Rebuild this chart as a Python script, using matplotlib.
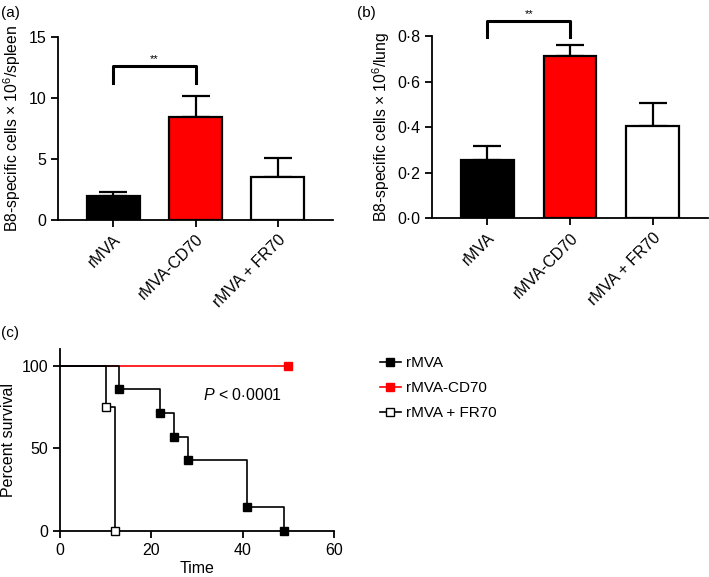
import numpy as np
import matplotlib
matplotlib.use("Agg")
import matplotlib.pyplot as plt
from matplotlib.ticker import FuncFormatter

plt.rcParams['font.family'] = ['Liberation Sans', 'DejaVu Sans']
plt.rcParams['mathtext.fontset'] = 'custom'
plt.rcParams['mathtext.rm'] = 'Liberation Sans'
plt.rcParams['mathtext.it'] = 'Liberation Sans:italic'
plt.rcParams['font.size'] = 11

groups = ['rMVA', 'rMVA-CD70', 'rMVA + FR70']
bar_colors = ['black', '#ff0000', 'white']

# (a) spleen
spleen_mean = [1.95, 8.45, 3.55]
spleen_err = [0.35, 1.7, 1.55]
# (b) lung
lung_mean = [0.256, 0.713, 0.405]
lung_err = [0.062, 0.046, 0.100]

# (c) survival curves (Kaplan-Meier steps)
rmva_t = [0, 13, 22, 25, 28, 41, 49]
rmva_s = [100, 85.7, 71.4, 57.1, 42.9, 14.3, 0]
cd70_t = [0, 50]
cd70_s = [100, 100]
fr70_t = [0, 10, 12]
fr70_s = [100, 75, 0]

fig = plt.figure(figsize=(7.09, 5.77), dpi=100)


def style_axes(ax):
    for s in ['top', 'right']:
        ax.spines[s].set_visible(False)
    for s in ['left', 'bottom']:
        ax.spines[s].set_linewidth(1.3)
    ax.tick_params(width=1.3, length=5, labelsize=11.5)


def bar_panel(ax, means, errs, ylim, yticks, ylabel, bracket, star_y):
    x = np.arange(len(groups))
    ax.bar(x, means, width=0.64, color=bar_colors, edgecolor='black', linewidth=1.6, zorder=2)
    ax.errorbar(x, means, yerr=[np.zeros(len(errs)), errs], fmt='none', ecolor='black',
                elinewidth=1.6, capsize=10, capthick=1.6, zorder=1)
    ax.set_xlim(-0.67, 2.67)
    ax.set_ylim(*ylim)
    ax.set_yticks(yticks)
    ax.set_xticks(x)
    ax.set_xticklabels(groups, rotation=45, ha='right', rotation_mode='anchor')
    ax.set_ylabel(ylabel, fontsize=11.3, labelpad=4)
    style_axes(ax)
    top, bottom = bracket
    ax.plot([0, 0, 1, 1], [bottom, top, top, bottom], color='black', lw=2.2, clip_on=False)
    ax.text(0.5, star_y, '**', ha='center', va='center', fontsize=8, clip_on=False)


ax1 = fig.add_axes([0.0818, 0.6187, 0.3879, 0.3172])
bar_panel(ax1, spleen_mean, spleen_err, (0, 15), [0, 5, 10, 15],
          r'B8-specific cells $\times$ 10$^{6}$/spleen', (12.6, 11.2), 13.2)

ax2 = fig.add_axes([0.6093, 0.6217, 0.3893, 0.3159])
bar_panel(ax2, lung_mean, lung_err, (0, 0.8), [0, 0.2, 0.4, 0.6, 0.8],
          r'B8-specific cells $\times$ 10$^{6}$/lung', (0.867, 0.794), 0.895)
ax2.yaxis.set_major_formatter(FuncFormatter(lambda v, p: ('%.1f' % v).replace('.', '\u00b7')))

ax3 = fig.add_axes([0.0846, 0.0797, 0.3865, 0.3155])
ax3.step(cd70_t, cd70_s, where='post', color='#ff0000', lw=1.2, zorder=2)
ax3.plot(cd70_t[1:], cd70_s[1:], 's', color='#ff0000', ms=6, zorder=3, clip_on=False)
ax3.step(rmva_t, rmva_s, where='post', color='black', lw=1.2, zorder=3)
ax3.plot(rmva_t[1:], rmva_s[1:], 's', color='black', ms=6, zorder=4, clip_on=False)
ax3.step(fr70_t, fr70_s, where='post', color='black', lw=1.2, zorder=3)
ax3.plot(fr70_t[1:], fr70_s[1:], 's', mfc='white', mec='black', mew=1.0, ms=6, zorder=4,
         clip_on=False)
ax3.set_xlim(0, 60)
ax3.set_ylim(0, 110)
ax3.set_xticks([0, 20, 40, 60])
ax3.set_yticks([0, 50, 100])
ax3.set_xlabel('Time', fontsize=11.5, labelpad=2)
ax3.set_ylabel('Percent survival', fontsize=11.5, labelpad=4)
style_axes(ax3)
ax3.text(31.3, 82, r'$\it{P}$ < 0$\cdot$0001', ha='left', va='center', fontsize=11.5)

legend_labels = ['rMVA', 'rMVA-CD70', 'rMVA + FR70']
legend_handles = [
    matplotlib.lines.Line2D([], [], color='black', marker='s', ms=6, lw=1.2),
    matplotlib.lines.Line2D([], [], color='#ff0000', marker='s', ms=6, lw=1.2),
    matplotlib.lines.Line2D([], [], color='black', marker='s', ms=6, lw=1.2,
                            mfc='white', mec='black'),
]
fig.legend(legend_handles, legend_labels, loc='upper left',
           bbox_to_anchor=(0.527, 0.393), frameon=False, fontsize=11,
           handlelength=1.4, handletextpad=0.35, labelspacing=0.72, borderaxespad=0)

fig.text(0.002, 0.99, '(a)', ha='left', va='top', fontsize=11)
fig.text(0.503, 0.99, '(b)', ha='left', va='top', fontsize=11)
fig.text(0.002, 0.435, '(c)', ha='left', va='top', fontsize=11)

fig.savefig('out.png', dpi=100)
